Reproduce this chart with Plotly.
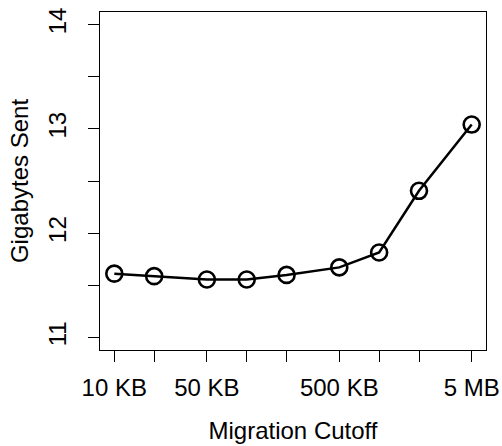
import plotly.graph_objects as go

cutoff_kb = [10, 20, 50, 100, 200, 500, 1000, 2000, 5000]
gigabytes = [11.612, 11.588, 11.556, 11.556, 11.600, 11.672, 11.815, 12.406, 13.041]
x_tick_vals = [10, 20, 50, 100, 200, 500, 1000, 2000, 5000]
x_tick_text = ["10 KB", "", "50 KB", "", "", "500 KB", "", "", "5 MB"]
y_tick_vals = [11, 11.5, 12, 12.5, 13, 13.5, 14]
y_tick_text = ["11", "", "12", "", "13", "", "14"]

FONT = "Liberation Sans, Arial, Helvetica, sans-serif"

fig = go.Figure()
fig.add_trace(go.Scatter(
    x=cutoff_kb, y=gigabytes, mode="lines+markers",
    line=dict(color="black", width=2.5),
    marker=dict(symbol="circle-open", size=16, color="black",
                line=dict(color="black", width=2.6)),
    showlegend=False,
))

fig.update_layout(
    width=502, height=446,
    margin=dict(l=100, r=16, t=12, b=96),
    paper_bgcolor="white", plot_bgcolor="white",
    font=dict(family=FONT, size=24, color="black"),
    xaxis=dict(
        type="log", range=[0.892, 3.807], automargin=False,
        tickvals=x_tick_vals, ticktext=x_tick_text,
        ticks="outside", ticklen=11, tickwidth=1.2, tickcolor="black",
        showline=True, linecolor="black", linewidth=1.3, mirror=True,
        showgrid=False, zeroline=False,
        ticklabelstandoff=5,
        title=dict(text="Migration Cutoff", standoff=22,
                   font=dict(size=24)),
    ),
    yaxis=dict(
        range=[10.88, 14.12], automargin=False,
        tickvals=y_tick_vals, ticktext=y_tick_text, tickangle=-90,
        ticks="outside", ticklen=11, tickwidth=1.2, tickcolor="black",
        showline=True, linecolor="black", linewidth=1.3, mirror=True,
        showgrid=False, zeroline=False,
        ticklabelstandoff=12,
        title=dict(text="Gigabytes Sent", standoff=8,
                   font=dict(size=24)),
    ),
)

fig.write_html("out.html")
